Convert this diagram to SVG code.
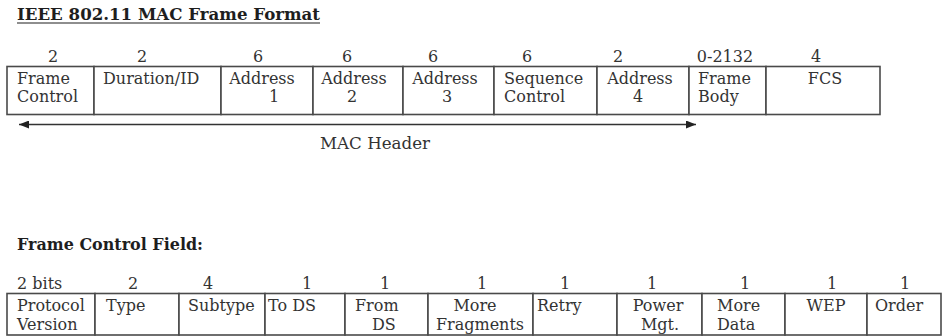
<svg xmlns="http://www.w3.org/2000/svg" width="942" height="336" viewBox="0 0 942 336">
<defs>
<style>
text{font-family:"DejaVu Serif","Liberation Serif",serif;font-size:16px;fill:#333}
.b{font-weight:bold;fill:#1e1e1e}
.c{text-anchor:middle}
.cell{fill:#fff;stroke:#4a4a4a;stroke-width:1.6}
.conn{stroke:#333;stroke-width:1.6;fill:none}
</style>
<marker id="ah" viewBox="0 0 10 8" refX="10" refY="4" markerWidth="10" markerHeight="8" markerUnits="userSpaceOnUse" orient="auto-start-reverse">
<path d="M0,0 L10,4 L0,8 Z" fill="#222"/>
</marker>
</defs>
<rect width="942" height="336" fill="#fff"/>

<g id="title">
<text class="b" x="17" y="20" textLength="303" lengthAdjust="spacingAndGlyphs">IEEE 802.11 MAC  Frame Format</text>
<line x1="17" y1="23" x2="320" y2="23" stroke="#1e1e1e" stroke-width="1.2"/>
</g>

<g id="sizes-top">
<text class="c" x="53" y="62">2</text>
<text class="c" x="142" y="62">2</text>
<text class="c" x="258" y="62">6</text>
<text class="c" x="347" y="62">6</text>
<text class="c" x="433" y="62">6</text>
<text class="c" x="527" y="62">6</text>
<text class="c" x="618" y="62">2</text>
<text class="c" x="725" y="62">0-2132</text>
<text class="c" x="816" y="62">4</text>
</g>

<g id="frame-control">
<rect class="cell" x="7" y="66.5" width="87" height="48"/>
<text x="17" y="83.5">Frame</text>
<text x="17" y="101.5">Control</text>
</g>
<g id="duration-id">
<rect class="cell" x="94" y="66.5" width="127" height="48"/>
<text x="103" y="83.5">Duration/ID</text>
</g>
<g id="address-1">
<rect class="cell" x="221" y="66.5" width="92" height="48"/>
<text class="c" x="262" y="83.5">Address</text>
<text class="c" x="274" y="101.5">1</text>
</g>
<g id="address-2">
<rect class="cell" x="313" y="66.5" width="90" height="48"/>
<text class="c" x="354" y="83.5">Address</text>
<text class="c" x="352" y="101.5">2</text>
</g>
<g id="address-3">
<rect class="cell" x="403" y="66.5" width="91" height="48"/>
<text class="c" x="445" y="83.5">Address</text>
<text class="c" x="447" y="101.5">3</text>
</g>
<g id="sequence-control">
<rect class="cell" x="494" y="66.5" width="103" height="48"/>
<text x="504" y="83.5">Sequence</text>
<text x="504" y="101.5">Control</text>
</g>
<g id="address-4">
<rect class="cell" x="597" y="66.5" width="92" height="48"/>
<text class="c" x="640" y="83.5">Address</text>
<text class="c" x="638" y="101.5">4</text>
</g>
<g id="frame-body">
<rect class="cell" x="689" y="66.5" width="77" height="48"/>
<text x="698" y="83.5">Frame</text>
<text x="698" y="101.5">Body</text>
</g>
<g id="fcs">
<rect class="cell" x="766" y="66.5" width="114" height="48"/>
<text class="c" x="825" y="83.5">FCS</text>
</g>

<g id="connectors">
<line class="conn" x1="19" y1="124.5" x2="696" y2="124.5" marker-start="url(#ah)" marker-end="url(#ah)"/>
</g>
<g id="mac-header-label">
<text x="320" y="149" textLength="110" lengthAdjust="spacingAndGlyphs">MAC Header</text>
</g>

<g id="fc-title">
<text class="b" x="17" y="250" textLength="186" lengthAdjust="spacingAndGlyphs">Frame Control Field:</text>
</g>

<g id="sizes-bottom">
<text x="17" y="289">2 bits</text>
<text class="c" x="133" y="289">2</text>
<text class="c" x="208" y="289">4</text>
<text class="c" x="307" y="289">1</text>
<text class="c" x="385" y="289">1</text>
<text class="c" x="482" y="289">1</text>
<text class="c" x="565" y="289">1</text>
<text class="c" x="652" y="289">1</text>
<text class="c" x="745" y="289">1</text>
<text class="c" x="832" y="289">1</text>
<text class="c" x="905" y="289">1</text>
</g>

<g id="protocol-version">
<rect class="cell" x="7" y="293.5" width="88" height="41.5"/>
<text x="17" y="311">Protocol</text>
<text x="17" y="330">Version</text>
</g>
<g id="type">
<rect class="cell" x="95" y="293.5" width="84" height="41.5"/>
<text x="106" y="311">Type</text>
</g>
<g id="subtype">
<rect class="cell" x="179" y="293.5" width="86" height="41.5"/>
<text x="188" y="311">Subtype</text>
</g>
<g id="to-ds">
<rect class="cell" x="265" y="293.5" width="80" height="41.5"/>
<text x="268" y="311">To DS</text>
</g>
<g id="from-ds">
<rect class="cell" x="345" y="293.5" width="83" height="41.5"/>
<text x="355" y="311">From</text>
<text x="372" y="330">DS</text>
</g>
<g id="more-fragments">
<rect class="cell" x="428" y="293.5" width="105" height="41.5"/>
<text class="c" x="475" y="311">More</text>
<text class="c" x="480" y="330">Fragments</text>
</g>
<g id="retry">
<rect class="cell" x="533" y="293.5" width="84" height="41.5"/>
<text x="537" y="311">Retry</text>
</g>
<g id="power-mgt">
<rect class="cell" x="617" y="293.5" width="85" height="41.5"/>
<text class="c" x="658" y="311">Power</text>
<text class="c" x="660" y="330">Mgt.</text>
</g>
<g id="more-data">
<rect class="cell" x="702" y="293.5" width="83" height="41.5"/>
<text x="717" y="311">More</text>
<text x="717" y="330">Data</text>
</g>
<g id="wep">
<rect class="cell" x="785" y="293.5" width="82" height="41.5"/>
<text class="c" x="826" y="311">WEP</text>
</g>
<g id="order">
<rect class="cell" x="867" y="293.5" width="74" height="41.5"/>
<text x="875" y="311">Order</text>
</g>
</svg>
